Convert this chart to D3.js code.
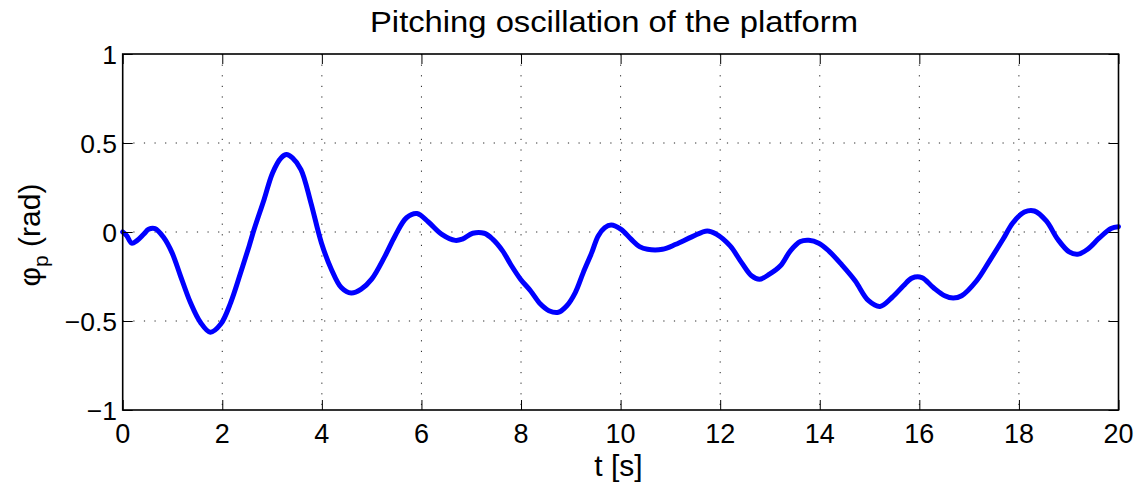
<!DOCTYPE html>
<html>
<head>
<meta charset="utf-8">
<script src="https://cdn.jsdelivr.net/npm/d3@7"></script>
<style>
  html, body { margin: 0; padding: 0; background: #fff; }
  svg { display: block; }
  text { font-family: "Liberation Sans", Arial, Helvetica, sans-serif; fill: #000; }
</style>
</head>
<body>
<svg id="chart" width="1138" height="482"></svg>
<script>
// Pitch angle of the platform over time
const timeS = [0, 0.08, 0.18, 0.28, 0.42, 0.52, 0.65, 0.82, 0.99, 1.16, 1.36, 1.56, 1.76, 1.97,
  2.17, 2.37, 2.54, 2.64, 2.84, 3.01, 3.18, 3.29, 3.41, 3.58, 3.78, 3.99, 4.19, 4.39, 4.59,
  4.79, 5.0, 5.27, 5.47, 5.70, 5.91, 6.14, 6.41, 6.68, 6.82, 7.03, 7.26, 7.43, 7.63, 7.79,
  7.99, 8.19, 8.39, 8.56, 8.75, 8.92, 9.09, 9.25, 9.42, 9.55, 9.68, 9.81, 10.01, 10.21,
  10.38, 10.54, 10.84, 11.11, 11.44, 11.74, 11.93, 12.20, 12.43, 12.63, 12.79, 12.99,
  13.21, 13.41, 13.61, 13.78, 13.98, 14.18, 14.45, 14.71, 14.98, 15.21, 15.45, 15.68,
  15.85, 16.05, 16.28, 16.51, 16.68, 16.85, 17.15, 17.41, 17.68, 17.88, 18.11, 18.31,
  18.55, 18.78, 19.01, 19.18, 19.38, 19.61, 19.85, 20.0];
const pitchRad = [0, -0.02, -0.063, -0.05, -0.013, 0.015, 0.019, -0.03, -0.116, -0.246,
  -0.396, -0.507, -0.563, -0.517, -0.396, -0.228, -0.078, 0.015, 0.183, 0.332, 0.416,
  0.435, 0.416, 0.351, 0.164, -0.06, -0.209, -0.312, -0.343, -0.321, -0.265, -0.134,
  -0.022, 0.08, 0.104, 0.056, -0.013, -0.047, -0.04, -0.007, -0.007, -0.04, -0.106,
  -0.181, -0.265, -0.33, -0.405, -0.442, -0.451, -0.414, -0.34, -0.228, -0.116, -0.022,
  0.024, 0.039, 0.015, -0.04, -0.082, -0.097, -0.097, -0.069, -0.026, 0.006, -0.013,
  -0.078, -0.172, -0.246, -0.265, -0.237, -0.19, -0.106, -0.054, -0.047, -0.063, -0.106,
  -0.187, -0.274, -0.386, -0.418, -0.368, -0.302, -0.259, -0.256, -0.312, -0.358, -0.371,
  -0.358, -0.274, -0.162, -0.041, 0.052, 0.112, 0.118, 0.062, -0.041, -0.112, -0.125,
  -0.097, -0.035, 0.02, 0.03];

const xTicks = [0, 2, 4, 6, 8, 10, 12, 14, 16, 18, 20];
const yTicks = [-1, -0.5, 0, 0.5, 1];
const yTickLabels = ["\u22121", "\u22120.5", "0", "0.5", "1"];

const svg = d3.select("#chart");
const plotL = 122.7, plotR = 1118.5, plotT = 54, plotB = 410;

const x = d3.scaleLinear().domain([0, 20]).range([plotL, plotR]);
const y = d3.scaleLinear().domain([-1, 1]).range([plotB, plotT]);

// dotted grid
const grid = svg.append("g")
  .attr("stroke", "#222")
  .attr("stroke-width", 1)
  .attr("stroke-dasharray", "1.2,9.4");
grid.selectAll("line.gx").data(xTicks.slice(1, -1)).join("line")
  .attr("x1", d => x(d)).attr("x2", d => x(d))
  .attr("y1", plotT).attr("y2", plotB);
grid.selectAll("line.gy").data(yTicks.slice(1, -1)).join("line")
  .attr("x1", plotL).attr("x2", plotR)
  .attr("y1", d => y(d)).attr("y2", d => y(d));

// data line
const pts = timeS.map((t, i) => [t, pitchRad[i]]);
svg.append("path")
  .datum(pts)
  .attr("fill", "none")
  .attr("stroke", "#0000ff")
  .attr("stroke-width", 5)
  .attr("stroke-linejoin", "round")
  .attr("stroke-linecap", "round")
  .attr("d", d3.line().x(d => x(d[0])).y(d => y(d[1])).curve(d3.curveCatmullRom));

// axes with inward ticks on all four sides
const tickLen = 10;
svg.append("g").attr("transform", `translate(0,${plotB})`)
  .call(d3.axisBottom(x).tickValues(xTicks).tickSizeInner(-tickLen).tickSizeOuter(0).tickFormat(""))
  .call(g => g.select(".domain").remove());
svg.append("g").attr("transform", `translate(0,${plotT})`)
  .call(d3.axisTop(x).tickValues(xTicks).tickSizeInner(-tickLen).tickSizeOuter(0).tickFormat(""))
  .call(g => g.select(".domain").remove());
svg.append("g").attr("transform", `translate(${plotL},0)`)
  .call(d3.axisLeft(y).tickValues(yTicks).tickSizeInner(-tickLen).tickSizeOuter(0).tickFormat(""))
  .call(g => g.select(".domain").remove());
svg.append("g").attr("transform", `translate(${plotR},0)`)
  .call(d3.axisRight(y).tickValues(yTicks).tickSizeInner(-tickLen).tickSizeOuter(0).tickFormat(""))
  .call(g => g.select(".domain").remove());
svg.selectAll(".tick line").attr("stroke", "#000").attr("stroke-width", 1);

// frame
svg.append("rect")
  .attr("x", plotL).attr("y", plotT)
  .attr("width", plotR - plotL).attr("height", plotB - plotT)
  .attr("fill", "none").attr("stroke", "#000").attr("stroke-width", 1.6);

// tick labels
svg.append("g").selectAll("text").data(xTicks).join("text")
  .attr("x", d => x(d)).attr("y", 442.5)
  .attr("text-anchor", "middle")
  .attr("font-size", 27)
  .text(d => d);
svg.append("g").selectAll("text").data(yTicks).join("text")
  .attr("x", 117).attr("y", d => y(d) + 10)
  .attr("text-anchor", "end")
  .attr("font-size", 26.5)
  .text((d, i) => yTickLabels[i]);

// title and axis labels
svg.append("text")
  .attr("x", 614).attr("y", 32)
  .attr("text-anchor", "middle")
  .attr("font-size", 29)
  .attr("textLength", 488)
  .attr("lengthAdjust", "spacingAndGlyphs")
  .text("Pitching oscillation of the platform");

svg.append("text")
  .attr("x", 618.5).attr("y", 476)
  .attr("text-anchor", "middle")
  .attr("font-size", 30)
  .text("t [s]");

const yl = svg.append("text")
  .attr("transform", `translate(40,235) rotate(-90)`)
  .attr("text-anchor", "middle")
  .attr("font-size", 30);
yl.append("tspan").text("\u03c6");
yl.append("tspan").attr("font-size", 21).attr("dy", 8).text("p");
yl.append("tspan").attr("dy", -8).text(" (rad)");
</script>
</body>
</html>
